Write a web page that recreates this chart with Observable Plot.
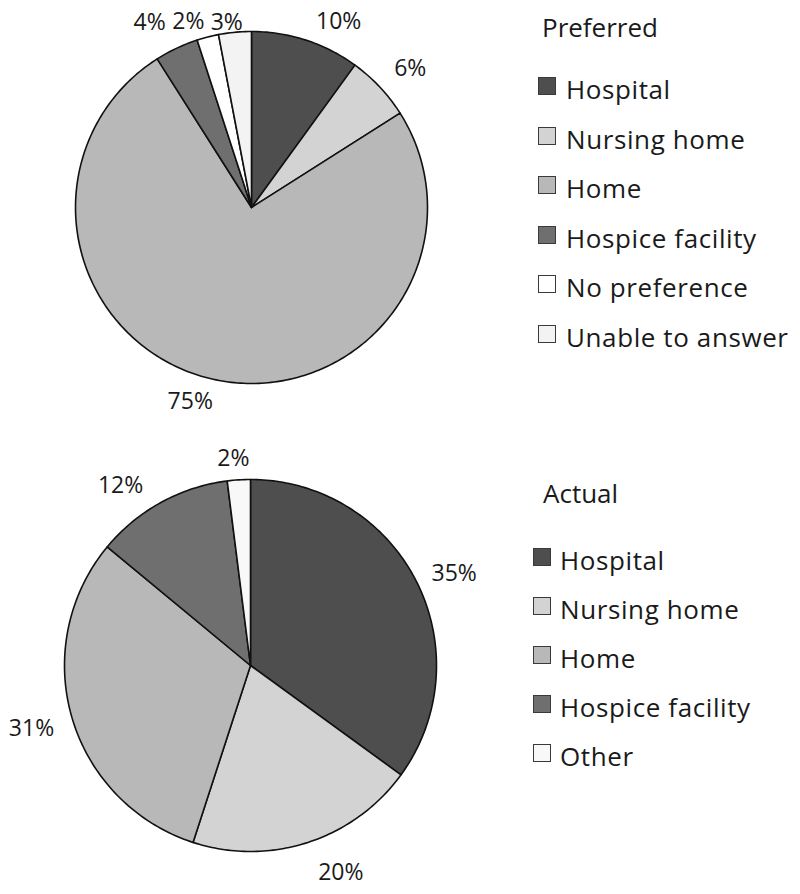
<!DOCTYPE html>
<html>
<head>
<meta charset="utf-8">
<script src="https://cdn.jsdelivr.net/npm/d3@7"></script>
<script src="https://cdn.jsdelivr.net/npm/@observablehq/plot@0.6"></script>
<style>
  html, body { margin: 0; padding: 0; background: #fff; }
  #wrap { position: relative; width: 800px; height: 894px; font-family: "Open Sans", sans-serif; color: #1a1a1a; overflow: hidden; }
  .plot { position: absolute; left: 0; }
  .ltitle { position: absolute; font-size: 26px; line-height: 26px; white-space: nowrap; }
  .lrow { position: absolute; height: 26px; font-size: 26px; line-height: 26px; white-space: nowrap; letter-spacing: 0.6px; }
  .lsw { position: absolute; width: 18px; height: 18px; box-sizing: border-box; border: 1.5px solid #3a3a3a; }
</style>
</head>
<body>
<div id="wrap"></div>
<script>
// ---- Data ----
const prefCategories = ["Hospital", "Nursing home", "Home", "Hospice facility", "No preference", "Unable to answer"];
const prefValues = [10, 6, 75, 4, 2, 3];
const actualCategories = ["Hospital", "Nursing home", "Home", "Hospice facility", "Other"];
const actualValues = [35, 20, 31, 12, 2];

// ---- Styles / layout ----
const prefColors = ["#4e4e4e", "#d3d3d3", "#b8b8b8", "#6f6f6f", "#ffffff", "#f3f3f3"];
const actualColors = ["#4e4e4e", "#d3d3d3", "#b8b8b8", "#6f6f6f", "#f8f8f8"];
const prefNudges = [[24, 9], [8, 3], [-17, -4], [-15, 0], [-13, 10], [-6, 14]];
const actualNudges = [[5, 9], [24, 3], [-5, 1], [-25, 11], [-4, 2]];
const labelFont = 23;

const wrap = document.getElementById("wrap");

function sliceGeometry(cats, vals) {
  const arcs = d3.pie().sort(null).value(d => d)(vals);
  const pts = [];
  arcs.forEach((a, i) => {
    const key = cats[i];
    pts.push({key, x: 0, y: 0});
    const n = Math.max(2, Math.ceil((a.endAngle - a.startAngle) / (Math.PI / 180)));
    for (let j = 0; j <= n; j++) {
      const t = a.startAngle + (a.endAngle - a.startAngle) * j / n;
      pts.push({key, x: Math.sin(t), y: Math.cos(t)});
    }
  });
  return pts;
}

function labelGeometry(vals, R, nudges) {
  const arcs = d3.pie().sort(null).value(d => d)(vals);
  return arcs.map((a, i) => {
    const m = (a.startAngle + a.endAngle) / 2;
    const text = vals[i] + "%";
    const w = ((text.length - 1) * 0.572 + 0.854) * labelFont;
    const h = 20;
    const s = Math.sin(m), c = Math.cos(m);
    const dist = R + 12 + Math.abs(s) * w / 2 + Math.abs(c) * h / 2;
    const px = s * dist + nudges[i][0];
    const py = c * dist - nudges[i][1];
    return {x: px / R, y: py / R, text};
  });
}

function pie(cats, vals, colors, nudges, cx, cy, R, top, h) {
  const chart = Plot.plot({
    width: 800,
    height: h,
    style: {fontFamily: "Open Sans", background: "transparent", overflow: "visible"},
    x: {domain: [-1, 1], range: [cx - R, cx + R], axis: null},
    y: {domain: [-1, 1], range: [cy + R, cy - R], axis: null},
    color: {domain: cats, range: colors},
    marks: [
      Plot.line(sliceGeometry(cats, vals), {
        x: "x", y: "y", z: "key", fill: "key",
        stroke: "#111", strokeWidth: 1.6, curve: "linear-closed"
      }),
      Plot.text(labelGeometry(vals, R, nudges), {
        x: "x", y: "y", text: "text", fontSize: labelFont, fill: "#1a1a1a"
      })
    ]
  });
  chart.classList.add("plot");
  chart.style.top = top + "px";
  wrap.appendChild(chart);
}

function legend(title, cats, colors, titleLeft, titleTop, swLeft, txtLeft, rowTop, rowStep) {
  const t = document.createElement("div");
  t.className = "ltitle";
  t.style.left = titleLeft + "px";
  t.style.top = titleTop + "px";
  t.textContent = title;
  wrap.appendChild(t);
  cats.forEach((c, i) => {
    const top = rowTop + rowStep * i;
    const sw = document.createElement("div");
    sw.className = "lsw";
    sw.style.left = swLeft + "px";
    sw.style.top = (top + 1) + "px";
    sw.style.background = colors[i];
    wrap.appendChild(sw);
    const tx = document.createElement("div");
    tx.className = "lrow";
    tx.style.left = txtLeft + "px";
    tx.style.top = top + "px";
    tx.textContent = c;
    wrap.appendChild(tx);
  });
}

pie(prefCategories, prefValues, prefColors, prefNudges, 251, 207, 176, 0, 447);
pie(actualCategories, actualValues, actualColors, actualNudges, 250, 218, 186, 447, 447);

legend("Preferred", prefCategories, prefColors, 542, 14, 538, 566, 76, 49.6);
legend("Actual", actualCategories, actualColors, 543, 480, 533, 560, 547, 49);
</script>
</body>
</html>
